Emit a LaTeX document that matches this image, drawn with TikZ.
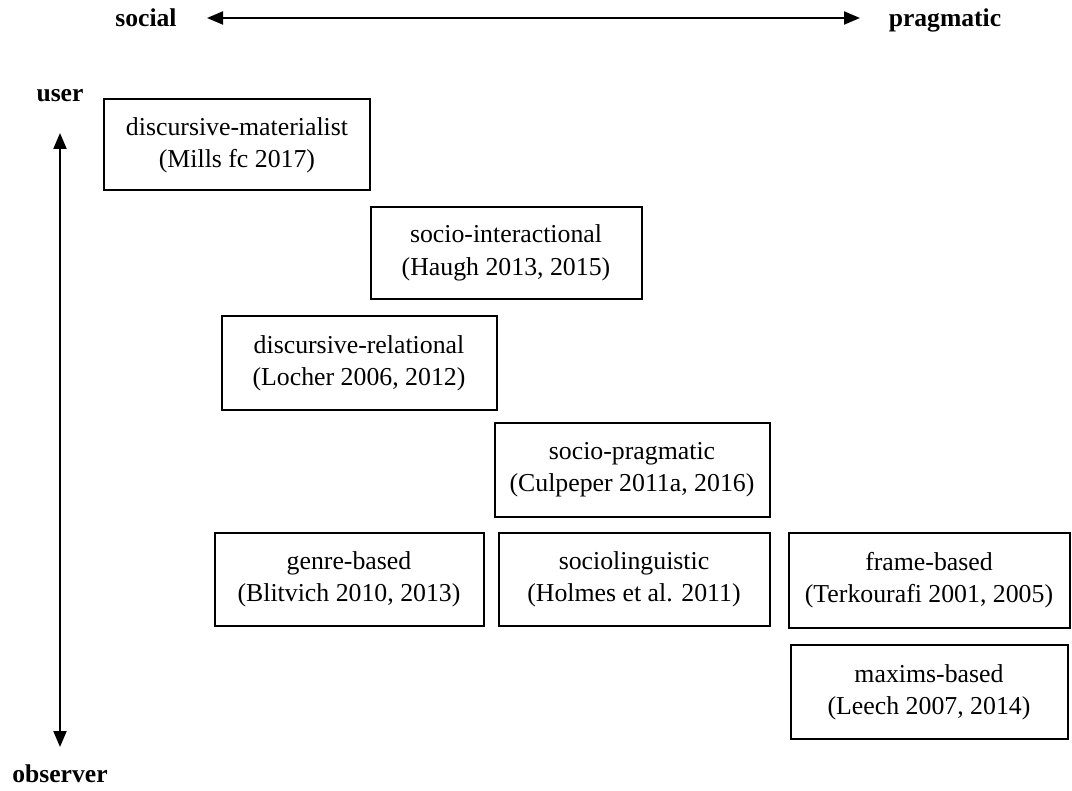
\documentclass[tikz,border=0pt]{standalone}
\usepackage{fontspec}
\setmainfont{Liberation Serif}
\usepackage{tikz}
\usetikzlibrary{positioning,calc,arrows.meta}

\begin{document}
\begin{tikzpicture}[x=0.5pt, y=-0.5pt, >={Triangle[length=8pt,width=6.5pt]}, line width=1pt,
    approach/.style={draw, rectangle, align=center, font=\fontsize{12.9}{16.2}\selectfont, inner sep=0pt},
    axislabel/.style={font=\bfseries\fontsize{12.8}{14}\selectfont, inner sep=0pt, anchor=base}]
  \useasboundingbox (0,0) rectangle (1072,791);

  % axes
  \node[axislabel] (social) at (146,27) {social};
  \node[axislabel] (pragmatic) at (945,27) {pragmatic};
  \node[axislabel] (user) at (60,102) {user};
  \node[axislabel] (observer) at (60,782) {observer};
  \coordinate (hleft) at (207,18);
  \coordinate (hright) at (860,18);
  \coordinate (vtop) at (60,133);
  \coordinate (vbot) at (60,747);
  \draw[<->] (hleft) -- (hright);
  \draw[<->] (vtop) -- (vbot);

  % approaches
  \node[approach, minimum width=133pt, minimum height=45.5pt] (matl) at (237,145) {discursive-materialist\\(Mills fc 2017)};
  \node[approach, minimum width=135.5pt, minimum height=46pt] (inter) at (506,253) {socio-interactional\\(Haugh 2013, 2015)};
  \node[approach, minimum width=137.5pt, minimum height=47pt] (rel) at (359,363) {discursive-relational\\(Locher 2006, 2012)};
  \node[approach, minimum width=137.5pt, minimum height=46.5pt] (socprag) at (632,470) {socio-pragmatic\\(Culpeper 2011a, 2016)};
  \node[approach, minimum width=134.5pt, minimum height=46.5pt] (genre) at (349,579) {genre-based\\(Blitvich 2010, 2013)};
  \node[approach, minimum width=135.5pt, minimum height=46.5pt] (socling) at (634,579) {sociolinguistic\\(Holmes et al. 2011)};
  \node[approach, minimum width=140.5pt, minimum height=47.5pt] (frame) at (929,580) {frame-based\\(Terkourafi 2001, 2005)};
  \node[approach, minimum width=138.5pt, minimum height=47pt] (maxims) at (929,692) {maxims-based\\(Leech 2007, 2014)};
\end{tikzpicture}
\end{document}
